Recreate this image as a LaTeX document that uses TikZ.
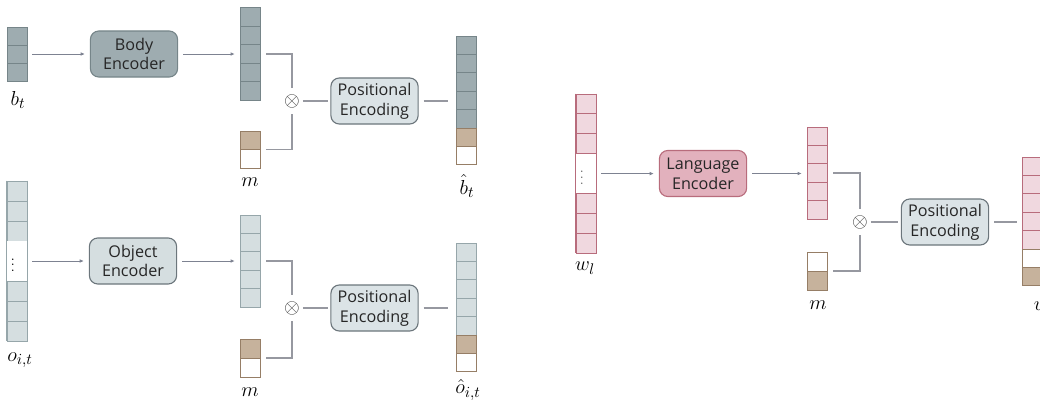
\documentclass[tikz,border=0pt]{standalone}
\usepackage{fontspec}
\setsansfont{Open Sans}
\usetikzlibrary{arrows.meta,fit,positioning}

\definecolor{bodyfill}{RGB}{158,172,176}
\definecolor{bodyline}{RGB}{118,133,137}
\definecolor{objfill}{RGB}{213,222,224}
\definecolor{objline}{RGB}{150,166,170}
\definecolor{langfill}{RGB}{240,216,223}
\definecolor{langline}{RGB}{184,108,124}
\definecolor{langenc}{RGB}{226,177,189}
\definecolor{maskfill}{RGB}{198,178,156}
\definecolor{maskline}{RGB}{150,126,102}
\definecolor{pefill}{RGB}{219,227,230}
\definecolor{peline}{RGB}{108,118,124}
\definecolor{wirecol}{RGB}{150,152,160}
\definecolor{feedcol}{RGB}{125,130,145}

\tikzset{
  cell/.style={line width=0.7pt},
  bodycell/.style={cell, fill=bodyfill, draw=bodyline},
  objcell/.style={cell, fill=objfill, draw=objline},
  langcell/.style={cell, fill=langfill, draw=langline},
  maskcell/.style={cell, fill=maskfill, draw=maskline},
  blankcell/.style={cell, fill=white, draw=maskline},
  gapcell/.style={draw=none, fill=white},
  encoder/.style={rounded corners=6pt, minimum width=2.18cm, minimum height=1.15cm,
    align=center, line width=0.8pt, text=black!85,
    font=\sffamily\fontsize{11.5}{14}\selectfont},
  bodyenc/.style={encoder, fill=bodyfill, draw=bodyline},
  objenc/.style={encoder, fill=objfill, draw=peline},
  langenc/.style={encoder, fill=langenc, draw=langline},
  posenc/.style={encoder, fill=pefill, draw=peline},
  mul/.style={inner xsep=2pt, inner ysep=4pt, font=\fontsize{14}{16}\selectfont, text=black!75},
  lab/.style={font=\fontsize{15}{17}\selectfont},
  feed/.style={draw=feedcol, line width=0.6pt, -{Latex[length=3pt,width=2.6pt]},
    shorten <=3.5pt, shorten >=3.5pt},
  wire/.style={draw=wirecol, line width=0.8pt},
}

% one column of cells: name, left x, top y, cell height, list of cell styles
\newcommand{\vcol}[5]{%
  \foreach [count=\i] \s in {#5}
    \draw[\s] (#2,{#3+(\i-1)*#4}) rectangle ++(20,#4) coordinate (#1-se);
  \coordinate (#1-nw) at (#2,#3);
  \node[fit=(#1-nw)(#1-se), inner sep=0pt] (#1) {};
}

\begin{document}
\begin{tikzpicture}[x=0.025cm, y=-0.025cm]
\useasboundingbox (0,0) rectangle (1040,403);

% body branch
\vcol{bt}{7}{27}{18}{bodycell,bodycell,bodycell}
\node[lab] (btlab) at (18,100) {$b_t$};
\node[bodyenc] (benc) at (134,54) {Body\\Encoder};
\vcol{bemb}{240}{7.5}{18.6}{bodycell,bodycell,bodycell,bodycell,bodycell}
\vcol{bm}{240}{131}{18.5}{maskcell,blankcell}
\node[lab] (bmlab) at (250,182) {$m$};
\node[mul] (bmul) at (292,101) {$\otimes$};
\node[posenc] (bpe) at (374.5,101) {Positional\\Encoding};
\vcol{bout}{456}{36}{18.4}{bodycell,bodycell,bodycell,bodycell,bodycell,maskcell,blankcell}
\node[lab] (boutlab) at (467,186) {$\hat{b}_t$};

\draw[feed] (bt) -- (bt -| benc.west);
\draw[feed] (benc) -- (benc -| bemb.west);
\draw[wire, shorten <=4.3pt] (bemb.east) -| (bmul);
\draw[wire, shorten <=4.3pt] (bm.east) -| (bmul);
\draw[wire, shorten >=2pt] (bmul) -- (bpe);
\draw[wire, shorten <=3.5pt, shorten >=5.5pt] (bpe) -- (bpe -| bout.west);

% object branch
\vcol{oit}{7}{181}{20}{objcell,objcell,objcell,gapcell,gapcell,objcell,objcell,objcell}
\draw[draw=objline, line width=0.7pt] (oit.north west) -- (oit.south west)
  (oit.north east) -- (oit.south east);
\node[inner sep=0pt] (oitdots) at ([xshift=-3pt]oit.center) {$\vdots$};
\node[lab] (oitlab) at (20,360) {$o_{i,t}$};
\node[objenc] (oenc) at (133,261) {Object\\Encoder};
\vcol{oemb}{240}{215}{18.4}{objcell,objcell,objcell,objcell,objcell}
\vcol{om}{240}{339}{19}{maskcell,blankcell}
\node[lab] (omlab) at (250,392) {$m$};
\node[mul] (omul) at (292,308) {$\otimes$};
\node[posenc] (ope) at (374.5,308) {Positional\\Encoding};
\vcol{oout}{456}{243}{18.4}{objcell,objcell,objcell,objcell,objcell,maskcell,blankcell}
\node[lab] (ooutlab) at (468,390) {$\hat{o}_{i,t}$};

\draw[feed] (oit) -- (oit -| oenc.west);
\draw[feed] (oenc) -- (oenc -| oemb.west);
\draw[wire, shorten <=4.3pt] (oemb.east) -| (omul);
\draw[wire, shorten <=4.3pt] (om.east) -| (omul);
\draw[wire, shorten >=2pt] (omul) -- (ope);
\draw[wire, shorten <=3.5pt, shorten >=5.5pt] (ope) -- (ope -| oout.west);

% language branch
\vcol{wl}{576}{94}{19.9}{langcell,langcell,langcell,gapcell,gapcell,langcell,langcell,langcell}
\draw[draw=langline, line width=0.7pt] (wl.north west) -- (wl.south west)
  (wl.north east) -- (wl.south east);
\node[inner sep=0pt, text=black!60] (wldots) at ([xshift=-3pt]wl.center) {$\vdots$};
\node[lab] (wllab) at (585,268) {$w_l$};
\node[langenc] (wenc) at (703,173.5) {Language\\Encoder};
\vcol{wemb}{807}{127}{18.4}{langcell,langcell,langcell,langcell,langcell}
\vcol{wm}{807}{252}{19}{blankcell,maskcell}
\node[lab] (wmlab) at (818,305) {$m$};
\node[mul] (wmul) at (860,222) {$\otimes$};
\node[posenc] (wpe) at (945,222) {Positional\\Encoding};
\vcol{wout}{1022}{157}{18.4}{langcell,langcell,langcell,langcell,langcell,blankcell,maskcell}
\node[lab, anchor=west] (woutlab) at (1029,305) {$\hat{w}_l$};

\draw[feed] (wl) -- (wl -| wenc.west);
\draw[feed] (wenc) -- (wenc -| wemb.west);
\draw[wire, shorten <=4.3pt] (wemb.east) -| (wmul);
\draw[wire, shorten <=4.3pt] (wm.east) -| (wmul);
\draw[wire, shorten >=2pt] (wmul) -- (wpe);
\draw[wire, shorten <=3.5pt, shorten >=3.5pt] (wpe) -- (wpe -| wout.west);
\end{tikzpicture}
\end{document}
